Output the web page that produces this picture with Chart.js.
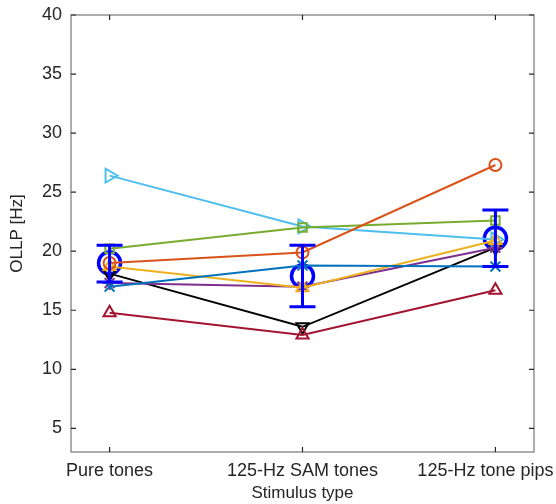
<!DOCTYPE html>
<html>
<head>
<meta charset="utf-8">
<script src="https://cdn.jsdelivr.net/npm/chart.js@4"></script>
<style>
  body { margin: 0; background: #fff; }
  #wrap { width: 556px; height: 504px; }
</style>
</head>
<body>
<div id="wrap"><canvas id="myChart"></canvas></div>
<script>
// x categories
const categories = ["Pure tones", "125-Hz SAM tones", "125-Hz tone pips    "];
const yTicks = [5, 10, 15, 20, 25, 30, 35, 40];

// individual listeners
const blueVals = [17.0, 18.8, 18.7];
const orangeVals = [19.0, 19.9, 27.3];
const yellowVals = [18.7, 16.9, 20.9];
const purpleVals = [17.3, 17.0, 20.3];
const greenVals = [20.2, 22.0, 22.6];
const cyanVals = [26.4, 22.1, 21.0];
const redVals = [14.8, 12.9, 16.7];
const blackVals = [18.1, 13.6, 20.3];

// group mean and error bar limits
const meanVals = [19.0, 17.9, 21.1];
const errLow = [17.4, 15.3, 18.7];
const errHigh = [20.5, 20.5, 23.5];

const toPoints = (vals) => vals.map((v, i) => ({ x: i + 1, y: v }));

function series(vals, color, style, radius, rotation) {
  return {
    data: toPoints(vals),
    borderColor: color,
    backgroundColor: "rgba(0,0,0,0)",
    borderWidth: 2,
    pointStyle: style,
    rotation: rotation || 0,
    pointRadius: radius,
    pointBorderWidth: 2,
    pointBorderColor: color,
    pointBackgroundColor: "rgba(0,0,0,0)",
    tension: 0,
  };
}

const frameAndTicks = {
  id: "frameAndTicks",
  afterDraw(chart) {
    const { ctx, chartArea: a, scales } = chart;
    ctx.save();
    ctx.strokeStyle = "#777";
    ctx.lineWidth = 1.2;
    ctx.strokeRect(a.left, a.top, a.right - a.left, a.bottom - a.top);
    ctx.strokeStyle = "#262626";
    ctx.beginPath();
    yTicks.forEach((v) => {
      const py = scales.y.getPixelForValue(v);
      ctx.moveTo(a.left, py); ctx.lineTo(a.left + 5, py);
      ctx.moveTo(a.right, py); ctx.lineTo(a.right - 5, py);
    });
    [1, 2, 3].forEach((v) => {
      const px = scales.x.getPixelForValue(v);
      ctx.moveTo(px, a.bottom); ctx.lineTo(px, a.bottom - 5);
      ctx.moveTo(px, a.top); ctx.lineTo(px, a.top + 5);
    });
    ctx.stroke();
    ctx.restore();
  },
};

const errorBars = {
  id: "errorBars",
  afterDatasetsDraw(chart) {
    const { ctx, scales } = chart;
    ctx.save();
    ctx.strokeStyle = "#0000ff";
    ctx.lineWidth = 3;
    ctx.beginPath();
    meanVals.forEach((m, i) => {
      const px = scales.x.getPixelForValue(i + 1);
      const lo = scales.y.getPixelForValue(errLow[i]);
      const hi = scales.y.getPixelForValue(errHigh[i]);
      ctx.moveTo(px, lo); ctx.lineTo(px, hi);
      ctx.moveTo(px - 13, lo); ctx.lineTo(px + 13, lo);
      ctx.moveTo(px - 13, hi); ctx.lineTo(px + 13, hi);
    });
    ctx.stroke();
    ctx.restore();
  },
};

const font = { family: "'Liberation Sans', Arial, sans-serif" };

new Chart(document.getElementById("myChart").getContext("2d"), {
  type: "line",
  data: {
    datasets: [
      series(blueVals, "#0072BD", "crossRot", 7),
      series(orangeVals, "#D95319", "circle", 6),
      series(yellowVals, "#EDB120", "triangle", 7),
      series(purpleVals, "#7E2F8E", "star", 7),
      series(greenVals, "#77AC30", "rect", 6),
      series(cyanVals, "#4DBEEE", "triangle", 8, 90),
      series(redVals, "#A2142F", "triangle", 7),
      series(blackVals, "#000000", "triangle", 7, 180),
      {
        data: toPoints(meanVals),
        showLine: false,
        pointStyle: "circle",
        pointRadius: 11,
        pointBorderWidth: 3.5,
        pointBorderColor: "#0000ff",
        pointBackgroundColor: "rgba(0,0,0,0)",
        borderColor: "#0000ff",
      },
    ],
  },
  options: {
    responsive: true,
    maintainAspectRatio: false,
    animation: false,
    layout: { padding: { top: 15, right: 22, left: 0, bottom: 0 } },
    plugins: { legend: { display: false }, tooltip: { enabled: false } },
    scales: {
      x: {
        type: "linear",
        min: 0.8,
        max: 3.2,
        grid: { display: false },
        border: { display: false },
        afterBuildTicks: (s) => { s.ticks = [1, 2, 3].map((v) => ({ value: v })); },
        afterFit: (s) => { s.height = 52; s.paddingLeft = 0; s.paddingRight = 0; },
        ticks: {
          autoSkip: false,
          maxRotation: 0,
          color: "#262626",
          font: { ...font, size: 18 },
          padding: 0,
          callback: (v) => categories[v - 1],
        },
        title: {
          display: true,
          text: "Stimulus type",
          color: "#262626",
          font: { ...font, size: 17 },
          padding: { top: 4, bottom: 0 },
        },
      },
      y: {
        min: 3,
        max: 40,
        grid: { display: false },
        border: { display: false },
        afterBuildTicks: (s) => { s.ticks = yTicks.map((v) => ({ value: v })); },
        afterFit: (s) => { s.width = 71; s.paddingTop = 0; s.paddingBottom = 0; },
        ticks: {
          color: "#262626",
          font: { ...font, size: 18 },
          padding: 1,
        },
        title: {
          display: true,
          text: "OLLP [Hz]",
          color: "#262626",
          font: { ...font, size: 17 },
          padding: { top: 7, bottom: 0 },
        },
      },
    },
  },
  plugins: [frameAndTicks, errorBars],
});
</script>
</body>
</html>
